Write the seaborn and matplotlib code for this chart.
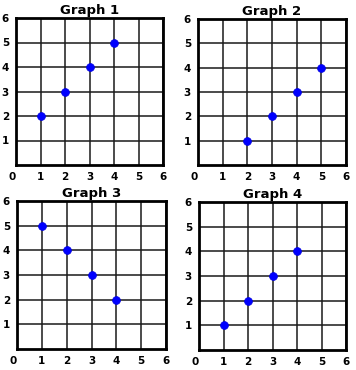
import matplotlib
matplotlib.use("Agg")
import matplotlib.pyplot as plt
import seaborn as sns
import pandas as pd

# --- dane ---
TITLES = ["Graph 1", "Graph 2", "Graph 3", "Graph 4"]
G1_X = [1, 2, 3, 4]
G1_Y = [2, 3, 4, 5]
G2_X = [2, 3, 4, 5]
G2_Y = [1, 2, 3, 4]
G3_X = [1, 2, 3, 4]
G3_Y = [5, 4, 3, 2]
G4_X = [1, 2, 3, 4]
G4_Y = [1, 2, 3, 4]
X_TICKS = [0, 1, 2, 3, 4, 5, 6]
Y_TICKS = [1, 2, 3, 4, 5, 6]

# --- konfiguracja ---
W, H = 356, 370
DPI = 100
# (left, top, right, bottom) w pikselach
AX_BOXES = [
    (16, 18, 163, 165),
    (198, 19, 346, 165),
    (17, 201, 166, 349),
    (199, 202, 346, 350),
]
POINT_COLOR = "#0000ff"


def make_axes(fig, box):
    l, t, r, b = box
    return fig.add_axes([l / W, 1 - b / H, (r - l) / W, (b - t) / H])


def draw_graph(ax, xs, ys, title):
    df = pd.DataFrame({"x": xs, "y": ys})
    sns.scatterplot(data=df, x="x", y="y", ax=ax, color=POINT_COLOR,
                    s=32, edgecolor="#0000dd", linewidth=0.5, zorder=5)
    ax.set_xlim(0, 6)
    ax.set_ylim(0, 6)
    ax.set_xticks(X_TICKS)
    ax.set_yticks(Y_TICKS)
    ax.set_xticklabels([str(v) for v in X_TICKS], fontsize=7.5,
                       fontweight="bold", color="black")
    ax.set_yticklabels([str(v) for v in Y_TICKS], fontsize=7.5,
                       fontweight="bold", color="black")
    ax.tick_params(length=0, pad=5)
    ax.grid(True, color="#1a1a1a", linewidth=1.1)
    ax.set_axisbelow(True)
    for sp in ax.spines.values():
        sp.set_visible(True)
        sp.set_color("black")
        sp.set_linewidth(2)
    ax.set_xlabel("")
    ax.set_ylabel("")
    ax.set_title(title, fontsize=9.5, fontweight="bold", color="black", pad=3)
    # zero przesunięte lekko w lewo, jak w oryginale
    ax.get_xticklabels()[0].set_horizontalalignment("right")


def main():
    sns.set_style("white")
    plt.rcParams["font.family"] = ["DejaVu Sans"]
    fig = plt.figure(figsize=(W / DPI, H / DPI), dpi=DPI)
    data = [(G1_X, G1_Y), (G2_X, G2_Y), (G3_X, G3_Y), (G4_X, G4_Y)]
    for box, (xs, ys), title in zip(AX_BOXES, data, TITLES):
        ax = make_axes(fig, box)
        draw_graph(ax, xs, ys, title)
    fig.savefig("out.png", dpi=DPI)
    plt.close(fig)


if __name__ == "__main__":
    main()
